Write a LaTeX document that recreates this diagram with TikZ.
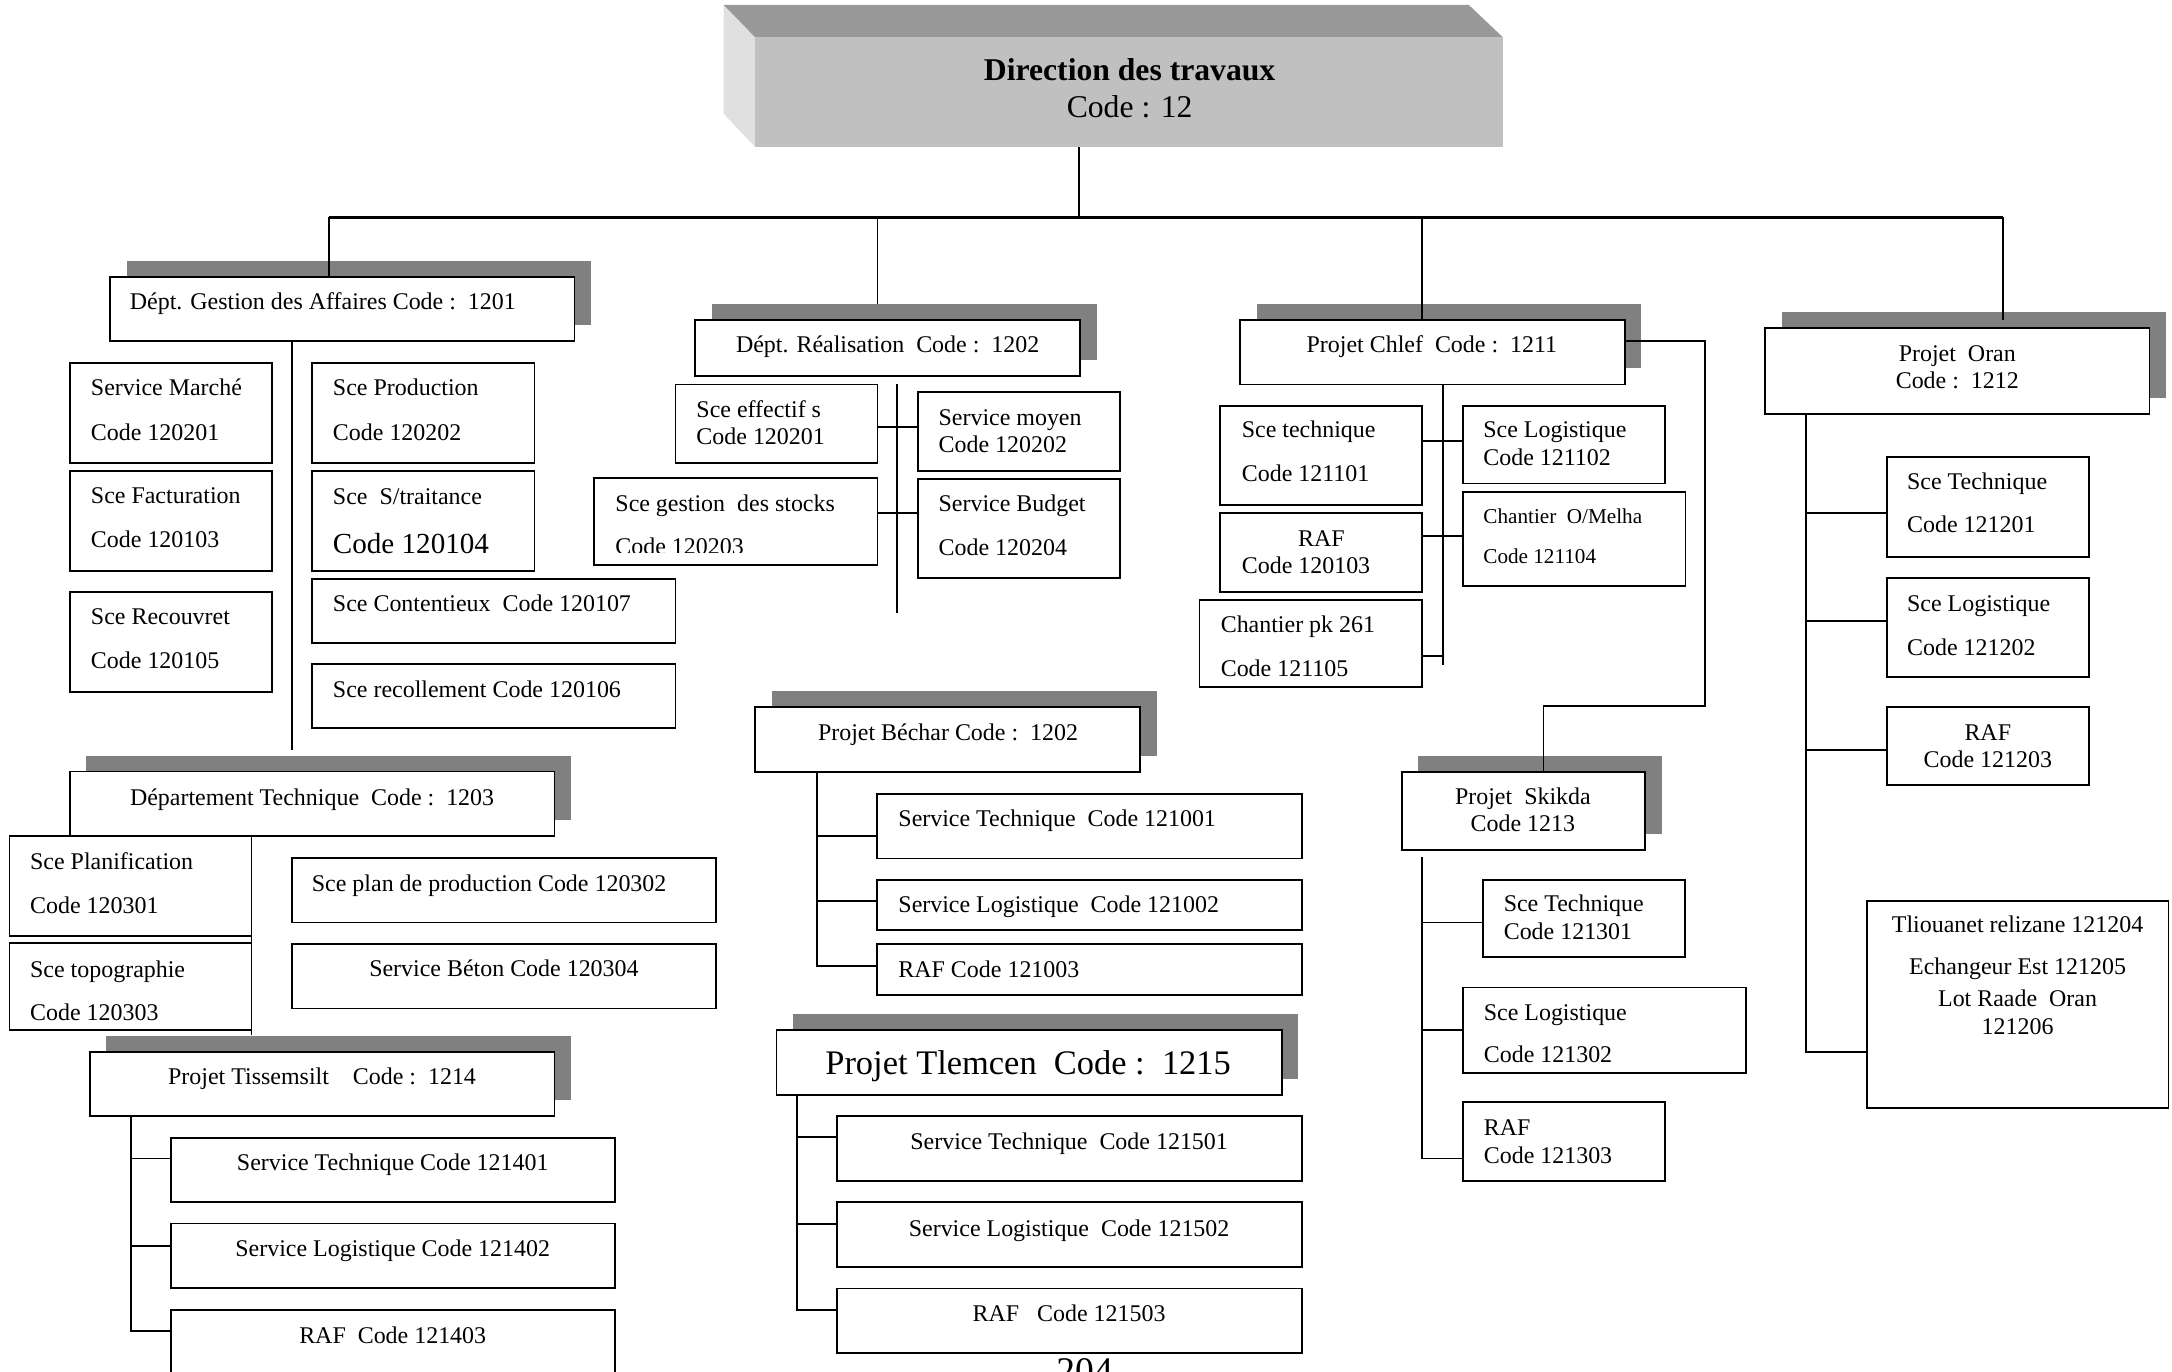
\documentclass[tikz,border=0pt]{standalone}
\usepackage{fontspec}
\setmainfont{Liberation Serif}
\usetikzlibrary{fit}
\definecolor{shadowgray}{RGB}{128,128,128}
\definecolor{topgray}{RGB}{153,153,153}
\definecolor{frontgray}{RGB}{192,192,192}
\definecolor{sidegray}{RGB}{224,224,224}

% a plain framed box spanning two corners
\newcommand\orgbox[5]{\node[box, fit={(#2,#3) (#4,#5)}] (#1) {};}
% a framed box with its grey offset shadow
\newcommand\orgshadowbox[5]{%
  \node[shadowbox, fit={({#2+12},{#3-11.5}) ({#4+12},{#5-11.5})}] (#1-sh) {};%
  \orgbox{#1}{#2}{#3}{#4}{#5}}
% one line of text
\newcommand\orgtext[4][]{\node[txt,#1] (#2) at (#3) {#4};}

\begin{document}
\begin{tikzpicture}[x=0.7pt, y=-0.7pt,
  box/.style={draw, line width=0.9pt, fill=white, inner sep=0pt, rectangle},
  shadowbox/.style={fill=shadowgray, inner sep=0pt, rectangle},
  txt/.style={inner sep=0pt, text height=8pt, text depth=0pt,
    font=\fontsize{12.1}{14.5}\selectfont},
  lt/.style={anchor=west},
  ct/.style={anchor=center},
  f147/.style={font=\fontsize{14.7}{17}\selectfont, text height=9.8pt},
  f107/.style={font=\fontsize{10.7}{13}\selectfont, text height=7.1pt},
  f16/.style={font=\fontsize{16}{19}\selectfont, text height=10.6pt},
  f16b/.style={font=\bfseries\fontsize{16}{19}\selectfont, text height=10.6pt},
  f174/.style={font=\fontsize{17.4}{20}\selectfont, text height=11.5pt},
  conn/.style={line width=0.9pt},
  bus/.style={line width=1.3pt}]

\useasboundingbox (0,0) rectangle (1568,990);
\clip (0,0) rectangle (1568,990);

% ---- head block, drawn as a bevelled slab
\fill[topgray] (522.3,3.6) -- (1060.4,3.6) -- (1085,27) -- (545,27) -- cycle;
\fill[sidegray] (522.3,3.6) -- (545,27) -- (545,106) -- (522.3,82) -- cycle;
\node[fit={(545,27) (1085,106)}, inner sep=0pt, fill=frontgray] (dir) {};
\orgtext[ct,f16b]{dir-a}{815.5,50.5}{Direction des travaux}
\orgtext[ct,f16]{dir-b}{815.5,77}{Code : 12}

% ---- Dépt. Gestion des Affaires
\orgshadowbox{DG}{79.6}{199.7}{414.8}{246.2}
\orgbox{SM}{50.6}{261.8}{196.3}{334}
\orgbox{SF}{50.6}{339.8}{196.3}{412}
\orgbox{SR}{50.6}{427.2}{196.3}{499.4}
\orgbox{SP}{225}{261.8}{385.8}{334}
\orgbox{SST}{225}{339.8}{385.8}{412}
\orgbox{SC}{225}{418}{487.6}{464}
\orgbox{SRC}{225}{479.6}{487.6}{525.8}

\orgtext[lt]{DG-t}{93.5,217.8}{Dépt. Gestion des Affaires Code :\ \ 1201}
\orgtext[lt]{SM-a}{65.4,279.6}{Service Marché}
\orgtext[lt]{SM-b}{65.4,312.4}{Code 120201}
\orgtext[lt]{SF-a}{65.4,357.8}{Sce Facturation}
\orgtext[lt]{SF-b}{65.4,389.4}{Code 120103}
\orgtext[lt]{SR-a}{65.4,445.2}{Sce Recouvret}
\orgtext[lt]{SR-b}{65.4,477.2}{Code 120105}
\orgtext[lt]{SP-a}{240.1,279.6}{Sce Production}
\orgtext[lt]{SP-b}{240.1,312.4}{Code 120202}
\orgtext[lt]{SST-a}{240.1,358.6}{Sce\ \ S/traitance}
\orgtext[lt,f147]{SST-b}{240.1,392.3}{Code 120104}
\orgtext[lt]{SC-t}{240.1,435.6}{Sce Contentieux\ \ Code 120107}
\orgtext[lt]{SRC-t}{240.1,497.5}{Sce recollement Code 120106}

% ---- Dépt. Réalisation
\orgshadowbox{DR}{502}{231}{779.7}{271.5}
\orgbox{SE}{487.6}{277.5}{633.5}{334}
\orgbox{SGS}{429}{345.3}{633.5}{408}
\orgbox{SMO}{662.9}{283.2}{808.6}{339.8}
\orgbox{SBU}{662.9}{345.8}{808.6}{417.5}

\orgtext[ct]{DR-t}{640.8,249}{Dépt. Réalisation\ \ Code :\ \ 1202}
\orgtext[lt]{SE-a}{502.5,296}{Sce effectif s}
\orgtext[lt]{SE-b}{502.5,315.3}{Code 120201}
\orgtext[lt]{SGS-a}{444,363.4}{Sce gestion\ \ des stocks}
% the second line runs past the text frame and is cut at its foot
\begin{scope}
  \clip (430,346) rectangle (633,398.6);
  \orgtext[lt]{SGS-b}{444,394.7}{Code 120203}
\end{scope}
\orgtext[lt]{SMO-a}{677.3,301.5}{Service moyen}
\orgtext[lt]{SMO-b}{677.3,320.8}{Code 120202}
\orgtext[lt]{SBU-a}{677.3,363.4}{Service Budget}
\orgtext[lt]{SBU-b}{677.3,395.1}{Code 120204}

% ---- Projet Béchar
\orgshadowbox{PB}{545.3}{510.6}{822.9}{557.1}
\orgbox{PB1}{633.2}{573.2}{939.8}{619.7}
\orgbox{PB2}{633.2}{635.3}{939.8}{671.4}
\orgbox{PB3}{633.2}{681.7}{939.8}{718.3}
\orgtext[ct]{PB-t}{684.4,529}{Projet Béchar Code :\ \ 1202}
\orgtext[lt]{PB1-t}{648.3,590.8}{Service Technique\ \ Code 121001}
\orgtext[lt]{PB2-t}{648.3,652.9}{Service Logistique\ \ Code 121002}
\orgtext[lt]{PB3-t}{648.3,699.8}{RAF Code 121003}

% ---- Projet Tlemcen
\orgshadowbox{PTL}{560.5}{743.6}{925.2}{790.5}
\orgbox{PTL1}{604.1}{805.7}{939.8}{852.6}
\orgbox{PTL2}{604.1}{867.5}{939.8}{914.5}
\orgbox{PTL3}{604.1}{930.1}{939.8}{976.5}
\orgtext[ct,f174]{PTL-t}{742.2,767.6}{Projet Tlemcen\ \ Code :\ \ 1215}
\orgtext[ct]{PTL1-t}{771.8,824.2}{Service Technique\ \ Code 121501}
\orgtext[ct]{PTL2-t}{771.8,886.8}{Service Logistique\ \ Code 121502}
\orgtext[ct]{PTL3-t}{771.8,948.1}{RAF\ \ \ Code 121503}

% ---- Département Technique
\orgshadowbox{DT}{50.4}{557}{400.3}{603.5}
\orgbox{SPL}{6.8}{603.5}{181.6}{675.7}
\orgbox{STO}{6.8}{681}{181.6}{743.6}
\orgbox{SPP}{210.9}{619.2}{516.9}{665.9}
\orgbox{SB}{210.9}{681.5}{516.9}{728}
\orgtext[ct]{DT-t}{225.3,576}{Département Technique\ \ Code :\ \ 1203}
\orgtext[lt]{SPL-a}{21.5,622}{Sce Planification}
\orgtext[lt]{SPL-b}{21.5,653.8}{Code 120301}
\orgtext[lt]{STO-a}{21.5,699.8}{Sce topographie}
\orgtext[lt]{STO-b}{21.5,730.8}{Code 120303}
\orgtext[lt]{SPP-t}{224.9,637.7}{Sce plan de production Code 120302}
\orgtext[ct]{SB-t}{363.8,699.1}{Service Béton Code 120304}

% ---- Projet Tissemsilt
\orgshadowbox{PT}{64.7}{759.2}{400.3}{805.7}
\orgbox{PT1}{123.3}{821.3}{444}{868}
\orgbox{PT2}{123.3}{883.2}{444}{930}
\orgbox{PT3}{123.3}{945.8}{444}{1000}
\orgtext[ct]{PT-t}{232.5,777.3}{Projet Tissemsilt\ \ \ \ Code :\ \ 1214}
\orgtext[ct]{PT1-t}{283.5,839.4}{Service Technique Code 121401}
\orgtext[ct]{PT2-t}{283.5,901.7}{Service Logistique Code 121402}
\orgtext[ct]{PT3-t}{283.5,963.8}{RAF\ \ Code 121403}

% ---- Projet Chlef
\orgshadowbox{PC}{895.2}{231}{1172.9}{277.5}
\orgbox{PC1}{880.8}{292.9}{1026.6}{364.6}
\orgbox{PC2}{880.8}{370.6}{1026.6}{427.2}
\orgbox{PC3}{866}{433.2}{1026.6}{495.7}
\orgbox{PC4}{1056.1}{292.9}{1201.7}{349}
\orgbox{PC5}{1056.1}{355}{1216.8}{423.1}
\orgtext[ct]{PC-t}{1033.7,249}{Projet Chlef\ \ Code :\ \ 1211}
\orgtext[lt]{PC1-a}{896.2,310.4}{Sce technique}
\orgtext[lt]{PC1-b}{896.2,342.2}{Code 121101}
\orgtext[ct]{PC2-a}{954,388.6}{RAF}
\orgtext[lt]{PC2-b}{896.2,408.6}{Code 120103}
\orgtext[lt]{PC3-a}{881,450.7}{Chantier pk 261}
\orgtext[lt]{PC3-b}{881,482.5}{Code 121105}
\orgtext[lt]{PC4-a}{1070.6,310.4}{Sce Logistique}
\orgtext[lt]{PC4-b}{1070.6,330.4}{Code 121102}
\orgtext[lt,f107]{PC5-a}{1070.6,372.5}{Chantier\ \ O/Melha}
\orgtext[lt,f107]{PC5-b}{1070.6,401.9}{Code 121104}

% ---- Projet Skikda
\orgshadowbox{PS}{1012}{557.1}{1187.6}{613.7}
\orgbox{PS1}{1070.4}{635.3}{1216.5}{691.1}
\orgbox{PS2}{1056}{712.8}{1260.3}{774.4}
\orgbox{PS3}{1056}{795.8}{1202}{852.4}
\orgtext[ct]{PS-a}{1099.4,575.2}{Projet\ \ Skikda}
\orgtext[ct]{PS-b}{1099.4,594.9}{Code 1213}
\orgtext[lt]{PS1-a}{1085.3,652.6}{Sce Technique}
\orgtext[lt]{PS1-b}{1085.3,672.6}{Code 121301}
\orgtext[lt]{PS2-a}{1070.9,731.1}{Sce Logistique}
\orgtext[lt]{PS2-b}{1070.9,761.2}{Code 121302}
\orgtext[lt]{PS3-a}{1070.9,813.9}{RAF}
\orgtext[lt]{PS3-b}{1070.9,833.9}{Code 121303}

% ---- Projet Oran
\orgshadowbox{PO}{1274.2}{237}{1551.7}{299.1}
\orgbox{PO1}{1362}{329.7}{1508.1}{401.9}
\orgbox{PO2}{1362}{417}{1508.1}{489}
\orgbox{PO3}{1362}{510.2}{1508.1}{566.7}
\orgbox{PO4}{1347.6}{650.2}{1565.4}{799.7}
\orgtext[ct]{PO-a}{1413,255.1}{Projet\ \ Oran}
\orgtext[ct]{PO-b}{1413,274.8}{Code :\ \ 1212}
\orgtext[lt]{PO1-a}{1376.5,347.7}{Sce Technique}
\orgtext[lt]{PO1-b}{1376.5,379}{Code 121201}
\orgtext[lt]{PO2-a}{1376.5,435.6}{Sce Logistique}
\orgtext[lt]{PO2-b}{1376.5,467.3}{Code 121202}
\orgtext[ct]{PO3-a}{1435,529}{RAF}
\orgtext[ct]{PO3-b}{1435,548.7}{Code 121203}
\orgtext[ct]{PO4-a}{1456.5,667.8}{Tliouanet relizane 121204}
\orgtext[ct]{PO4-b}{1456.5,698}{Echangeur Est 121205}
\orgtext[ct]{PO4-c}{1456.5,720.7}{Lot Raade\ \ Oran}
\orgtext[ct]{PO4-d}{1456.5,741}{121206}

% ---- page number at the foot, running off the page edge
\node[anchor=base, inner sep=0pt, font=\fontsize{19}{22}\selectfont] (pagenum) at (783,999) {204};

% ---- connectors
\begin{scope}[conn]
  % main bus
  \coordinate (busL) at (237.5,157);
  \coordinate (busDR) at (633.5,157);
  \coordinate (busMid) at (779,157);
  \coordinate (busPC) at (1026.6,157);
  \coordinate (busR) at (1445.8,157);
  \coordinate (poDrop) at (1445.8,231);
  \draw[bus] (busL) -- (busR);
  \draw (busMid |- dir.south) -- (busMid);
  \draw (busL) -- (busL |- DG.north);
  \draw (busDR) -- (busDR |- DR-sh.north);
  \draw (busPC) -- (busPC |- PC.north);
  \draw (busR) -- (poDrop);

  % Dépt. Gestion des Affaires
  \coordinate (dgEnd) at (211,541.5);
  \draw (dgEnd |- DG.south) -- (dgEnd);

  % Dépt. Réalisation
  \coordinate (drTop) at (647.7,277.5);
  \coordinate (drEnd) at (647.7,442.3);
  \coordinate (drA) at (647.7,308.5);
  \coordinate (drB) at (647.7,370.6);
  \draw (drTop) -- (drEnd);
  \draw (SE.east |- drA) -- (SMO.west |- drA);
  \draw (SGS.east |- drB) -- (SBU.west |- drB);

  % Projet Béchar
  \coordinate (pbA) at (590,603.3);
  \coordinate (pbB) at (590,650.2);
  \coordinate (pbC) at (590,697.2);
  \draw (PB.south -| pbC) -- (pbC) -- (pbC -| PB3.west);
  \draw (pbA) -- (pbA -| PB1.west);
  \draw (pbB) -- (pbB -| PB2.west);

  % Projet Tlemcen
  \coordinate (ptlA) at (575.1,820.6);
  \coordinate (ptlB) at (575.1,883.7);
  \coordinate (ptlC) at (575.1,945.7);
  \draw (PTL.south -| ptlC) -- (ptlC) -- (ptlC -| PTL3.west);
  \draw (ptlA) -- (ptlA -| PTL1.west);
  \draw (ptlB) -- (ptlB -| PTL2.west);

  % Département Technique
  \coordinate (dtEnd) at (181.6,747.2);
  \draw (dtEnd |- DT.south) -- (dtEnd);

  % Projet Tissemsilt
  \coordinate (ptA) at (94.4,836.3);
  \coordinate (ptB) at (94.4,899.3);
  \coordinate (ptC) at (94.4,961);
  \draw (PT.south -| ptC) -- (ptC) -- (ptC -| PT3.west);
  \draw (ptA) -- (ptA -| PT1.west);
  \draw (ptB) -- (ptB -| PT2.west);

  % Projet Chlef
  \coordinate (pcEnd) at (1041.7,480);
  \coordinate (pcA) at (1041.7,318.2);
  \coordinate (pcB) at (1041.7,386.7);
  \coordinate (pcC) at (1041.7,473.4);
  \draw (PC.south -| pcEnd) -- (pcEnd);
  \draw (PC1.east |- pcA) -- (PC4.west |- pcA);
  \draw (PC2.east |- pcB) -- (PC5.west |- pcB);
  \draw (PC3.east |- pcC) -- (pcC);

  % Projet Chlef to Projet Skikda
  \coordinate (skA) at (1231,246.2);
  \coordinate (skB) at (1231,509.5);
  \coordinate (skC) at (1114.2,509.5);
  \draw (PC.east |- skA) -- (skA) -- (skB) -- (skC) -- (skC |- PS.north);

  % Projet Skikda
  \coordinate (psTop) at (1026.8,619);
  \coordinate (psA) at (1026.8,665.9);
  \coordinate (psB) at (1026.8,743.6);
  \coordinate (psC) at (1026.8,836.3);
  \draw (psTop) -- (psC) -- (psC -| PS3.west);
  \draw (psA) -- (psA -| PS1.west);
  \draw (psB) -- (psB -| PS2.west);

  % Projet Oran
  \coordinate (poA) at (1303.8,370.1);
  \coordinate (poB) at (1303.8,448.3);
  \coordinate (poC) at (1303.8,541.5);
  \coordinate (poD) at (1303.8,759.2);
  \draw (PO.south -| poD) -- (poD) -- (poD -| PO4.west);
  \draw (poA) -- (poA -| PO1.west);
  \draw (poB) -- (poB -| PO2.west);
  \draw (poC) -- (poC -| PO3.west);
\end{scope}
\end{tikzpicture}
\end{document}
